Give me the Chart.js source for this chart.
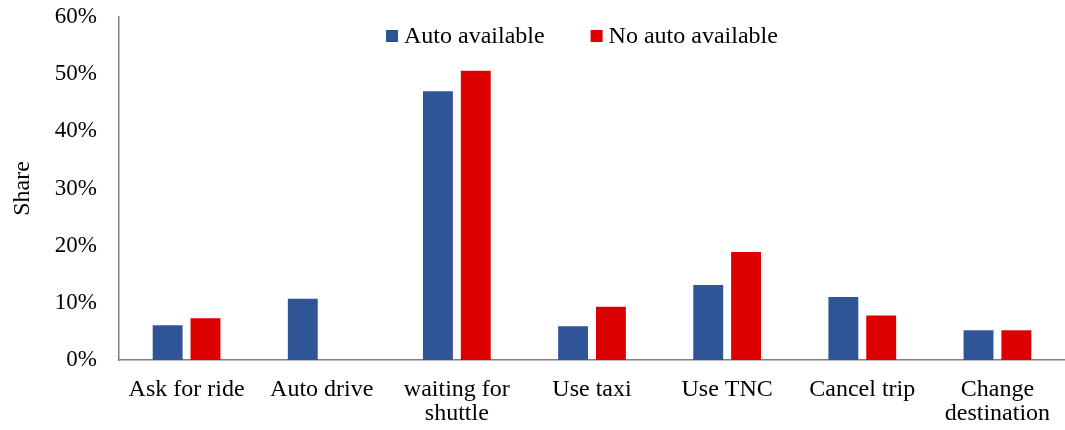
<!DOCTYPE html>
<html>
<head>
<meta charset="utf-8">
<script src="https://cdn.jsdelivr.net/npm/chart.js@4/dist/chart.umd.min.js"></script>
<style>
  html, body { margin: 0; padding: 0; background: #fff; }
  #wrap { width: 1065px; height: 430px; }
</style>
</head>
<body>
<div id="wrap"><canvas id="myChart" width="1065" height="430"></canvas></div>
<script>
// categories (multi-line labels as arrays)
const categories = [
    'Ask for ride',
    'Auto drive',
    ['waiting for', 'shuttle'],
    'Use taxi',
    'Use TNC',
    'Cancel trip',
    ['Change', 'destination'],
];
const autoAvailable = [6.1, 10.7, 47.0, 5.9, 13.1, 11.0, 5.2];
const noAutoAvailable = [7.3, 0, 50.6, 9.3, 18.9, 7.8, 5.2];
const yTicks = [0, 10, 20, 30, 40, 50, 60];

const FONT = "'Liberation Serif', 'Times New Roman', serif";

// legend drawn inside the plot area, near the top
const insideLegend = {
    id: 'insideLegend',
    afterDraw(chart) {
        const ctx = chart.ctx;
        const area = chart.chartArea;
        ctx.save();
        ctx.font = '24px ' + FONT;
        ctx.textBaseline = 'middle';
        let x = 386;
        const y = area.top + 19;
        chart.data.datasets.forEach((ds, i) => {
            ctx.fillStyle = ds.backgroundColor;
            ctx.fillRect(x, y - 6, 12, 12);
            ctx.fillStyle = '#000';
            ctx.fillText(ds.label, x + 18, y + 1);
            x += 18 + ctx.measureText(ds.label).width + 46;
        });
        ctx.restore();
    }
};

new Chart(document.getElementById('myChart'), {
    type: 'bar',
    data: {
        labels: categories,
        datasets: [
            {
                label: 'Auto available',
                data: autoAvailable,
                backgroundColor: '#2F5597',
                categoryPercentage: 0.56,
                barPercentage: 0.79,
            },
            {
                label: 'No auto available',
                data: noAutoAvailable,
                backgroundColor: '#DD0000',
                categoryPercentage: 0.56,
                barPercentage: 0.79,
            },
        ],
    },
    options: {
        responsive: false,
        animation: false,
        layout: { padding: { top: 17, right: 0, left: 0, bottom: 0 } },
        plugins: {
            legend: { display: false },
            tooltip: { enabled: false },
        },
        scales: {
            x: {
                grid: { display: false, drawTicks: false },
                border: { color: '#808080', width: 1.5 },
                ticks: {
                    color: '#000',
                    font: { family: FONT, size: 24, lineHeight: 1.0 },
                    padding: 18,
                    maxRotation: 0,
                    autoSkip: false,
                },
                afterFit(scale) {
                    scale.height = 70;
                    scale.paddingLeft = 0;
                    scale.paddingRight = 0;
                },
            },
            y: {
                min: 0,
                max: 60,
                grid: { display: false, drawTicks: false },
                border: { color: '#808080', width: 1.5 },
                afterBuildTicks(scale) {
                    scale.ticks = yTicks.map(v => ({ value: v }));
                },
                ticks: {
                    color: '#000',
                    font: { family: FONT, size: 23 },
                    padding: 22,
                    callback: v => v + '%',
                },
                title: {
                    display: true,
                    text: 'Share',
                    color: '#000',
                    font: { family: FONT, size: 24 },
                    padding: { top: 8, bottom: 0 },
                },
                afterFit(scale) {
                    scale.width = 119;
                    scale.paddingTop = 0;
                    scale.paddingBottom = 0;
                },
            },
        },
    },
    plugins: [insideLegend],
});
</script>
</body>
</html>
